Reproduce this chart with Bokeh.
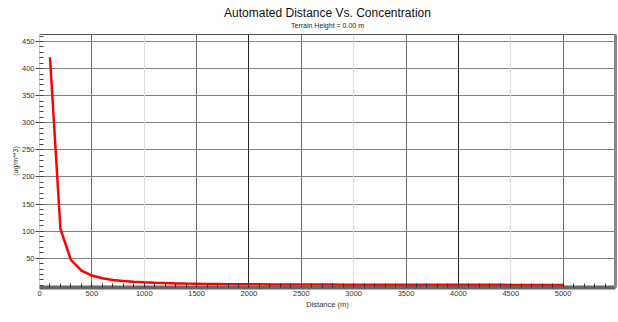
from bokeh.plotting import figure
from bokeh.models import FixedTicker, LinearAxis, Grid, Title, Range1d
from bokeh.embed import file_html
from bokeh.resources import INLINE

# ---- data ----
distance = [100, 200, 300, 400, 500, 600, 700, 800, 900, 1000,
            1100, 1200, 1300, 1400, 1500, 1600, 1700, 1800, 1900, 2000,
            2100, 2200, 2300, 2400, 2500, 2600, 2700, 2800, 2900, 3000,
            3100, 3200, 3300, 3400, 3500, 3600, 3700, 3800, 3900, 4000,
            4100, 4200, 4300, 4400, 4500, 4600, 4700, 4800, 4900, 5000]
concentration = [421, 104, 47, 27, 18, 13, 10, 8, 6.5, 5.5,
                 4.7, 4.1, 3.6, 3.2, 2.9, 2.6, 2.4, 2.2, 2.0, 1.9,
                 1.8, 1.7, 1.6, 1.55, 1.5, 1.45, 1.4, 1.35, 1.3, 1.25,
                 1.2, 1.2, 1.15, 1.1, 1.1, 1.05, 1.0, 1.0, 0.97, 0.95,
                 0.92, 0.9, 0.88, 0.86, 0.84, 0.82, 0.8, 0.78, 0.76, 0.75]

x_major_ticks = [0, 500, 1000, 1500, 2000, 2500, 3000, 3500, 4000, 4500, 5000]
x_minor_ticks = list(range(0, 5500, 100))
y_major_ticks = [50, 100, 150, 200, 250, 300, 350, 400, 450]
y_minor_ticks = list(range(0, 470, 10))
grid_dark = [2000, 4000]
grid_mid = [500, 1500, 2500, 3500, 5000]
grid_light = [1000, 3000, 4500]

title_text = "Automated Distance Vs. Concentration"
subtitle_text = "Terrain Height = 0.00 m"
x_label = "Distance (m)"
y_label = "(ug/m**3)"

FONT = "Liberation Sans"

p = figure(frame_width=576, frame_height=253,
           x_range=Range1d(0, 5500), y_range=Range1d(-4, 463),
           output_backend="svg", toolbar_location=None, title=None,
           min_border_left=31, min_border_right=3, min_border_top=0,
           min_border_bottom=24)
p.margin = (6, 0, 0, 8)

p.background_fill_color = "white"
p.border_fill_color = "white"
p.outline_line_color = "#555555"
p.outline_line_width = 1

# x axis
xa = p.xaxis[0]
xa.ticker = FixedTicker(ticks=x_major_ticks, minor_ticks=x_minor_ticks)
xa.axis_label = x_label
xa.axis_label_text_font = FONT
xa.axis_label_text_font_size = "7.5px"
xa.axis_label_text_font_style = "normal"
xa.axis_label_text_color = "#333333"
xa.axis_label_standoff = 1
xa.major_label_text_font = FONT
xa.major_label_text_font_size = "7.5px"
xa.major_label_text_color = "#333333"
xa.major_label_standoff = 3
xa.major_tick_in = 4
xa.major_tick_out = 0
xa.minor_tick_in = 4
xa.minor_tick_out = 0
xa.major_tick_line_color = "#333333"
xa.minor_tick_line_color = "#333333"
xa.axis_line_color = "#666666"
xa.axis_line_width = 4

# y axis
ya = p.yaxis[0]
ya.ticker = FixedTicker(ticks=y_major_ticks, minor_ticks=y_minor_ticks)
ya.axis_label = y_label
ya.axis_label_text_font = FONT
ya.axis_label_text_font_size = "7px"
ya.axis_label_text_font_style = "normal"
ya.axis_label_text_color = "#333333"
ya.axis_label_standoff = 0
ya.major_label_text_font = FONT
ya.major_label_text_font_size = "7.5px"
ya.major_label_text_color = "#333333"
ya.major_label_standoff = 1
ya.major_tick_in = 0
ya.major_tick_out = 4
ya.minor_tick_in = 4
ya.minor_tick_out = 0
ya.major_tick_line_color = "#444444"
ya.minor_tick_line_color = "#444444"
ya.axis_line_color = "#cccccc"

# right "shadow" axis
ra = LinearAxis(ticker=FixedTicker(ticks=[]), major_label_text_font_size="0px",
                major_tick_in=0, major_tick_out=0, minor_tick_in=0, minor_tick_out=0,
                axis_line_color="#888888", axis_line_width=3)
p.add_layout(ra, "right")

# grids
p.ygrid.ticker = FixedTicker(ticks=y_major_ticks)
p.ygrid.grid_line_color = "#808080"
p.xgrid.ticker = FixedTicker(ticks=grid_mid)
p.xgrid.grid_line_color = "#707070"
p.add_layout(Grid(dimension=0, ticker=FixedTicker(ticks=grid_dark), grid_line_color="#222222"))
p.add_layout(Grid(dimension=0, ticker=FixedTicker(ticks=grid_light), grid_line_color="#dddddd"))

# titles
p.add_layout(Title(text=subtitle_text, align="center", vertical_align="top",
                   text_font=FONT, text_font_size="7px", text_font_style="normal",
                   text_color="#222222", standoff=8), "above")
p.add_layout(Title(text=title_text, align="center", vertical_align="bottom",
                   text_font=FONT, text_font_size="12px", text_font_style="normal",
                   text_color="#111111", standoff=-5), "above")

p.line(distance, concentration, line_color="#ff0000", line_width=2.5)

open("out.html", "w").write(file_html(p, INLINE))
